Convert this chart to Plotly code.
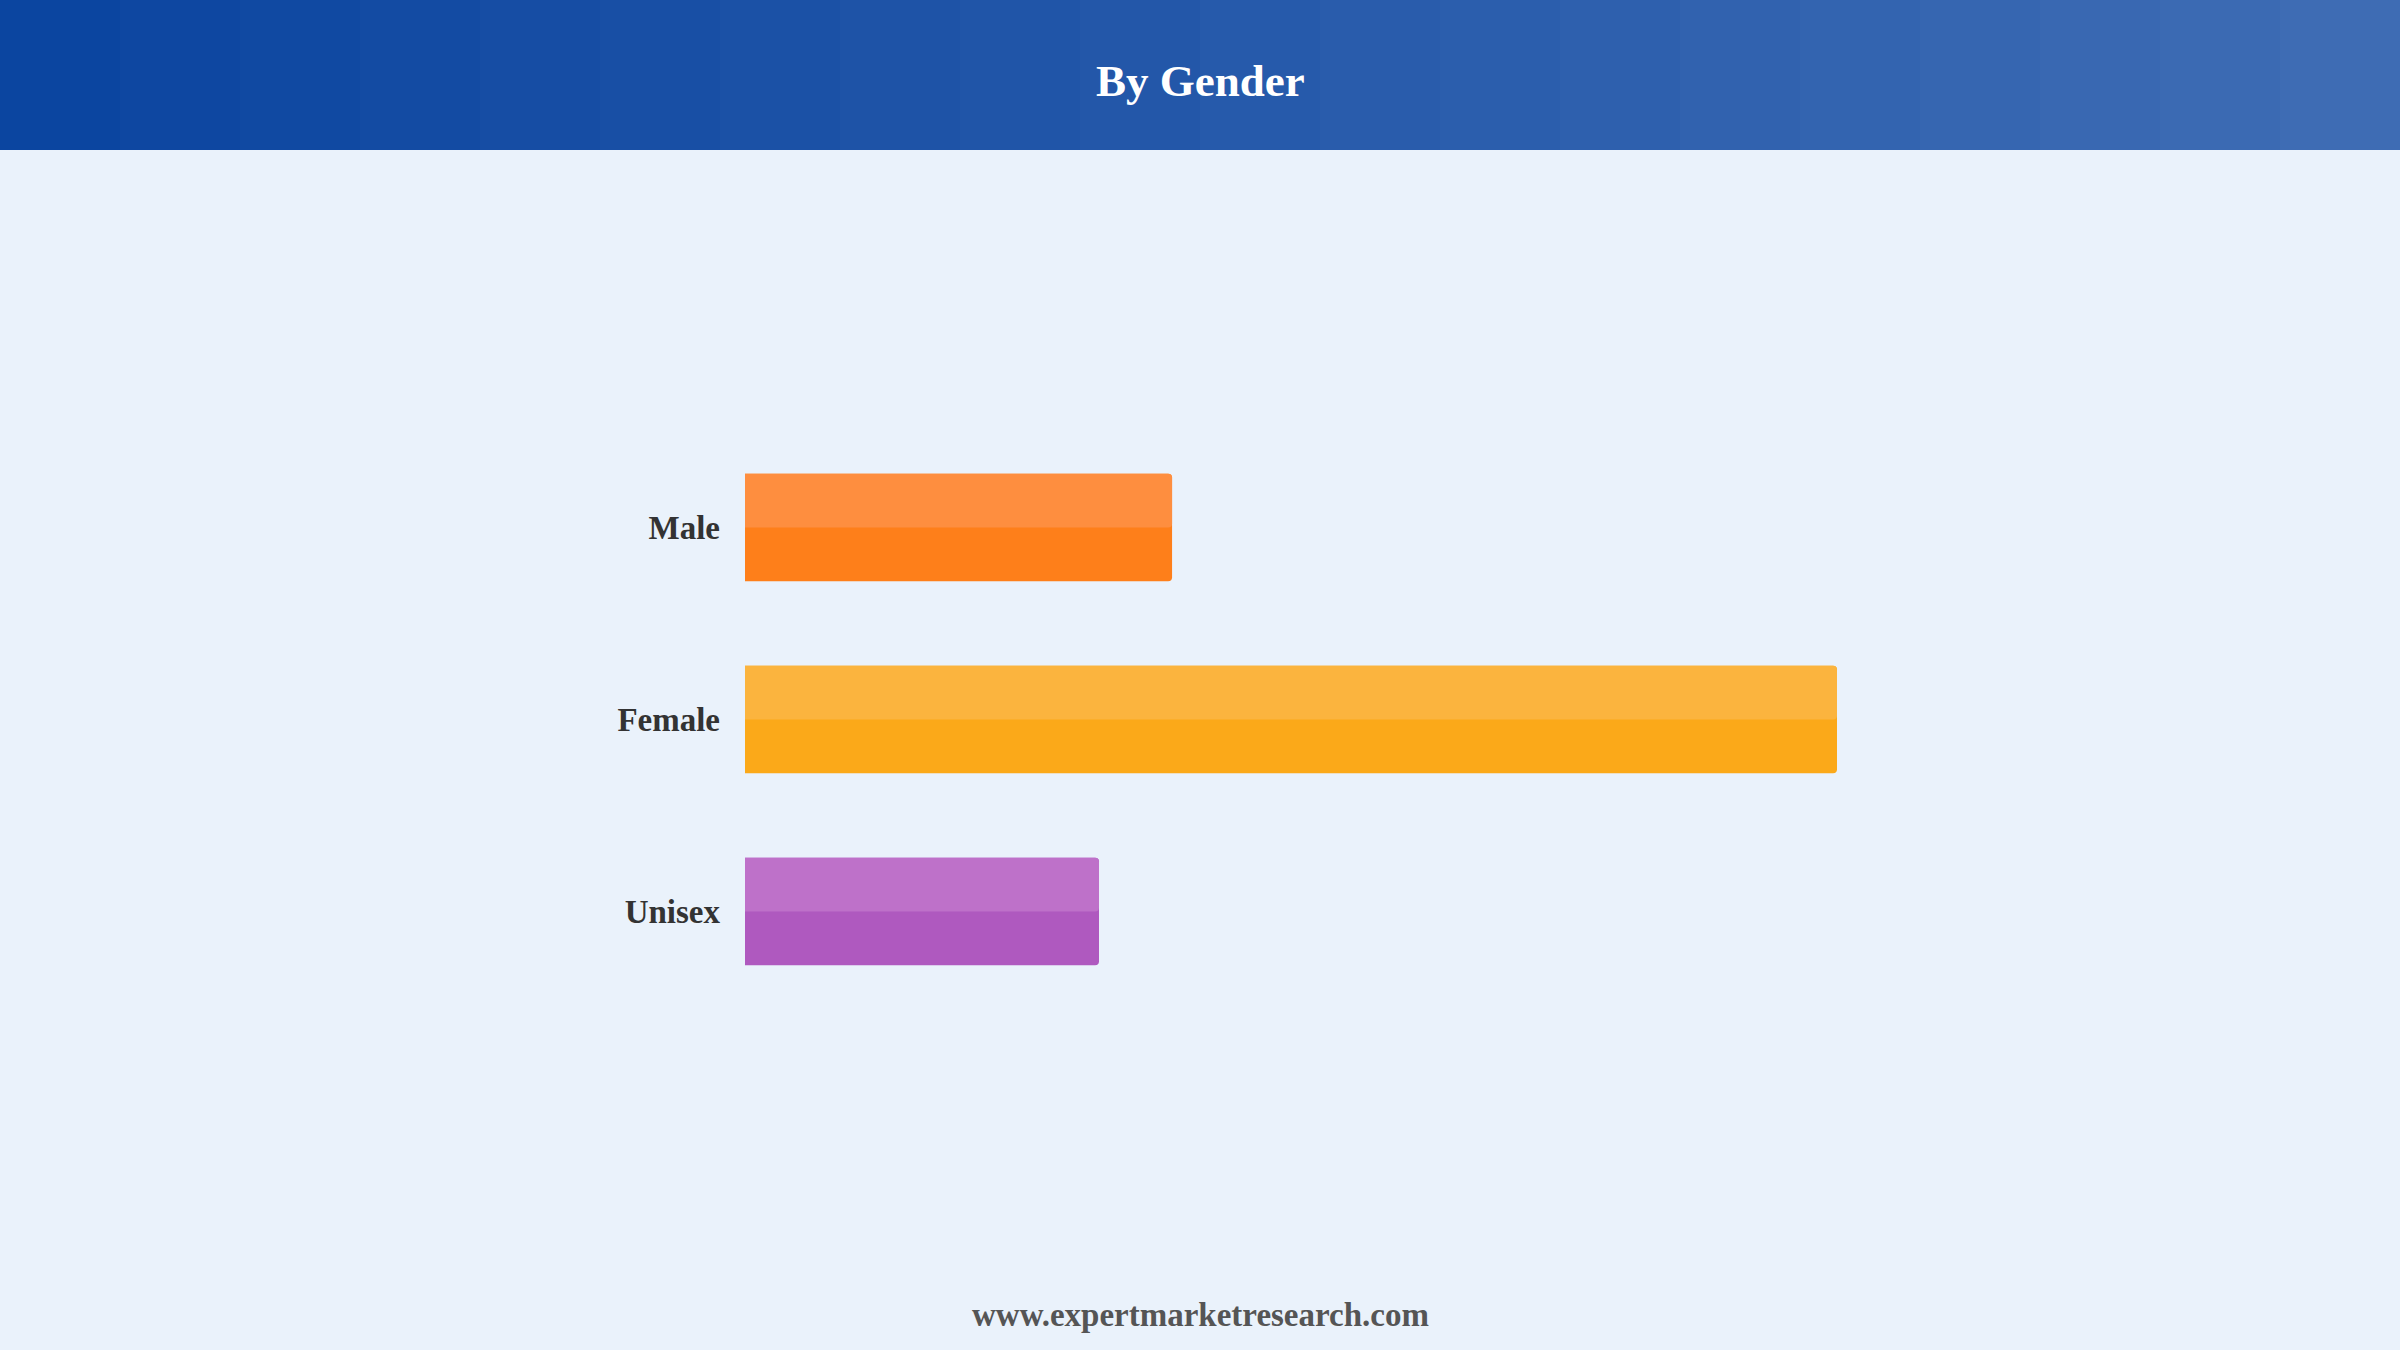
import plotly.graph_objects as go

# Market share by gender (bar lengths)
categories = ["Male", "Female", "Unisex"]
shares = [22.8, 58.3, 18.9]
base_colors = ["#FE7F1A", "#FBA919", "#AF59BF"]
top_colors = ["#FE8E3F", "#FBB43E", "#BE71C9"]

title_text = "By Gender"
footer_text = "www.expertmarketresearch.com"

W, H = 2400, 1350

fig = go.Figure()

# darker full bar
fig.add_trace(go.Bar(
    x=shares, y=categories, orientation="h",
    marker=dict(color=base_colors, line=dict(width=0)),
    width=0.56, hoverinfo="skip",
))
# lighter upper half on top
fig.add_trace(go.Bar(
    x=shares, y=categories, orientation="h",
    marker=dict(color=top_colors, line=dict(width=0)),
    width=0.28, offset=-0.28, hoverinfo="skip",
))

# stepped gradient for the header band
n_steps = 20
c0 = (11, 69, 160)
c1 = (62, 108, 180)
for i in range(n_steps):
    t = i / (n_steps - 1)
    col = "rgb({},{},{})".format(*[round(a + (b - a) * t) for a, b in zip(c0, c1)])
    fig.add_shape(type="rect", xref="paper", yref="paper",
                  x0=i / n_steps, x1=(i + 1) / n_steps + 0.001,
                  y0=1 - 150 / H, y1=1, fillcolor=col, line_width=0, layer="below")

fig.update_layout(
    width=W, height=H,
    barmode="overlay", barcornerradius=4,
    showlegend=False,
    paper_bgcolor="#EAF2FB", plot_bgcolor="#EAF2FB",
    margin=dict(l=0, r=0, t=0, b=0),
    font=dict(family="Liberation Serif, Times New Roman, serif"),
    annotations=[
        dict(text="<b>" + title_text + "</b>", xref="paper", yref="paper",
             x=0.5, y=1 - 81 / H, xanchor="center", yanchor="middle",
             showarrow=False, font=dict(size=45, color="white")),
        dict(text="<b>" + footer_text + "</b>", xref="paper", yref="paper",
             x=0.5, y=1 - 1315 / H, xanchor="center", yanchor="middle",
             showarrow=False, font=dict(size=33, color="#555555")),
    ],
)

x_left, x_right = 745, 2100
fig.update_xaxes(domain=[x_left / W, x_right / W],
                 range=[0, 58.3 * (x_right - x_left) / 1092],
                 visible=False, fixedrange=True)
fig.update_yaxes(domain=[1 - 1007.5 / H, 1 - 431.5 / H], range=[2.5, -0.5],
                 showgrid=False, zeroline=False, showline=False, fixedrange=True,
                 ticks="", ticklabelstandoff=24, tickprefix="<b>", ticksuffix="</b>",
                 tickfont=dict(size=33, color="#333333", family="Liberation Serif"))

fig.write_html("out.html", config={"displayModeBar": False},
               post_script="document.body.style.margin='0';")
